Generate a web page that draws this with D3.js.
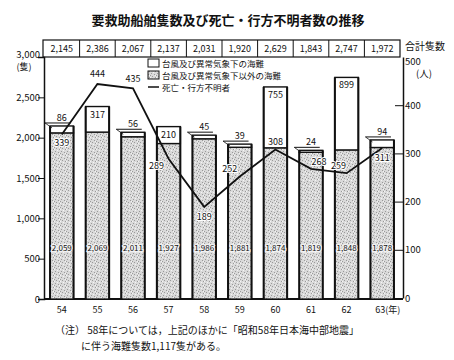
<!DOCTYPE html>
<html><head><meta charset="utf-8">
<script src="https://cdn.jsdelivr.net/npm/d3@7"></script>
<style>
body{margin:0;background:#fff;}
text{font-family:"Noto Sans CJK JP","DejaVu Sans",sans-serif;fill:#111;}
</style></head>
<body>
<svg id="c" width="454" height="360"></svg>
<script>
const years = ["54","55","56","57","58","59","60","61","62","63"];
const otherAccidents = [2059,2069,2011,1927,1986,1881,1874,1819,1848,1878];
const weatherAccidents = [86,317,56,210,45,39,755,24,899,94];
const totals = [2145,2386,2067,2137,2031,1920,2629,1843,2747,1972];
const deaths = [339,444,435,289,189,252,308,268,259,311];
const leftTicks = [0,500,1000,1500,2000,2500,3000];
const rightTicks = [0,100,200,300,400,500];

const svg = d3.select("#c");
const fmt = d3.format(",");

// pattern for stippled bars
const defs = svg.append("defs");
const pat = defs.append("pattern").attr("id","stip").attr("patternUnits","userSpaceOnUse")
  .attr("width",6).attr("height",6);
pat.append("rect").attr("width",6).attr("height",6).attr("fill","#d9d9d9");
[[1,1],[4,2],[2,4],[5,5],[0,3]].forEach(([a,b])=>pat.append("rect").attr("x",a).attr("y",b)
  .attr("width",1).attr("height",1).attr("fill","#9a9a9a"));
[[3,0],[0,5],[5,3]].forEach(([a,b])=>pat.append("rect").attr("x",a).attr("y",b)
  .attr("width",1).attr("height",1).attr("fill","#f4f4f4"));

const x = d3.scaleBand().domain(years).range([44,400]).paddingInner(0.34).paddingOuter(0.17);
const yL = d3.scaleLinear().domain([0,3000]).range([299,57]);
const yR = d3.scaleLinear().domain([0,500]).range([298,57]);

// title
svg.append("text").attr("x",228).attr("y",25).attr("text-anchor","middle")
  .attr("font-size",13).attr("font-weight","bold").text("要救助船舶隻数及び死亡・行方不明者数の推移");

// top table
const tb = svg.append("g");
tb.append("rect").attr("x",43).attr("y",40).attr("width",357).attr("height",17)
  .attr("fill","none").attr("stroke","#111").attr("stroke-width",1.2);
years.forEach((yr,i)=>{
  if(i>0){
    const sx = x(yr) - x.step()*x.paddingInner()/2;
    tb.append("line").attr("x1",sx).attr("x2",sx).attr("y1",40).attr("y2",57).attr("stroke","#111").attr("stroke-width",1);
  }
  tb.append("text").attr("x",x(yr)+x.bandwidth()/2).attr("y",52).attr("text-anchor","middle")
    .attr("font-size",9).text(fmt(totals[i]));
});
svg.append("text").attr("x",405).attr("y",50).attr("font-size",10).text("合計隻数");

// axes
const gL = svg.append("g").attr("transform","translate(44,0)")
  .call(d3.axisLeft(yL).tickValues(leftTicks).tickSize(6).tickFormat(d=>d===3000?"3,000":fmt(d)));
gL.select(".domain").attr("stroke","#111").attr("stroke-width",1.5);
gL.selectAll(".tick line").attr("stroke","#111");
gL.selectAll(".tick text").attr("font-size",9.5).attr("font-family","DejaVu Sans").attr("x",-4);
gL.selectAll(".tick").filter(d=>d===0).select("line").remove();
gL.selectAll(".tick").filter(d=>d===3000).select("line").remove();
gL.selectAll(".tick").filter(d=>d===3000).select("text").attr("dy","0em");
svg.append("text").attr("x",24).attr("y",70).attr("text-anchor","middle").attr("font-size",9).text("(隻)");

const gR = svg.append("g").attr("transform","translate(403,0)")
  .call(d3.axisRight(yR).tickValues(rightTicks).tickSize(0).tickFormat(d=>d));
gR.select(".domain").attr("stroke","#111").attr("stroke-width",1.5);
gR.selectAll(".tick text").attr("font-size",9.5).attr("font-family","DejaVu Sans").attr("x",2);
gR.selectAll(".tick").filter(d=>d>0&&d<500).append("line").attr("x1",-8).attr("x2",0).attr("stroke","#111");
gR.selectAll(".tick").filter(d=>d===500).select("text").attr("dy","0.75em");
svg.append("text").attr("x",424).attr("y",77).attr("text-anchor","middle").attr("font-size",9.5).text("(人)");

// baseline
svg.append("line").attr("x1",44).attr("x2",403).attr("y1",299).attr("y2",299).attr("stroke","#111").attr("stroke-width",1.8);

// x labels
years.forEach((yr,i)=>{
  const cx = x(yr)+x.bandwidth()/2;
  svg.append("text").attr("x", i===9? cx-7 : cx).attr("y",313)
    .attr("text-anchor", i===9? "start":"middle").attr("font-size",9)
    .text(i===9? yr+"(年)" : yr);
});

// bars
const bars = svg.append("g");
years.forEach((yr,i)=>{
  const bx = x(yr), bw = x.bandwidth();
  const yLow = yL(otherAccidents[i]), yTop = yL(totals[i]);
  bars.append("rect").attr("x",bx).attr("y",yLow).attr("width",bw).attr("height",yL(0)-yLow)
    .attr("fill","url(#stip)").attr("stroke","#111").attr("stroke-width",1.2);
  bars.append("rect").attr("x",bx).attr("y",yTop).attr("width",bw).attr("height",yLow-yTop)
    .attr("fill","#fff").attr("stroke","#111").attr("stroke-width",1.4);
  [bx, bx+bw].forEach(sx=>bars.append("line").attr("x1",sx).attr("x2",sx).attr("y1",yTop).attr("y2",yL(0))
    .attr("stroke","#111").attr("stroke-width",2));
  bars.append("text").attr("x",bx+bw/2).attr("y",yL(600)).attr("text-anchor","middle")
    .attr("font-size",8).attr("font-family","DejaVu Sans Condensed, DejaVu Sans")
    .attr("stroke","#f2f2f2").attr("stroke-width",2.5).attr("paint-order","stroke")
    .text(fmt(otherAccidents[i]));
  const w = weatherAccidents[i];
  if (w > 150){
    bars.append("text").attr("x",bx+bw/2).attr("y",yTop+11).attr("text-anchor","middle")
      .attr("font-size",9).attr("font-family","DejaVu Sans Condensed, DejaVu Sans").text(w);
  } else {
    const ly = yTop-3;
    bars.append("line").attr("x1",bx-5).attr("x2",bx+bw-3).attr("y1",ly).attr("y2",ly).attr("stroke","#111").attr("stroke-width",1);
    bars.append("line").attr("x1",bx-5).attr("x2",bx+2).attr("y1",ly).attr("y2",yTop+2).attr("stroke","#111").attr("stroke-width",0.8);
    bars.append("text").attr("x",bx+bw/2).attr("y",ly-2).attr("text-anchor","middle")
      .attr("font-size",9).attr("font-family","DejaVu Sans Condensed, DejaVu Sans").text(w);
  }
});

// deaths line
const cxs = years.map(yr=>x(yr)+x.bandwidth()/2);
const line = d3.line().x((d,i)=>cxs[i]).y(d=>yR(d));
svg.append("path").datum(deaths).attr("d",line).attr("fill","none").attr("stroke","#111").attr("stroke-width",1.8);
const off = [[0,8],[0,-7],[0,-6],[-12,7],[0,10],[-10,-5],[0,-5],[8,-4],[-8,-4],[0,10]];
deaths.forEach((d,i)=>{
  svg.append("text").attr("x",cxs[i]+off[i][0]).attr("y",yR(d)+off[i][1]+(off[i][1]>0?3:0))
    .attr("text-anchor","middle").attr("font-size",9)
    .attr("font-family","DejaVu Sans Condensed, DejaVu Sans")
    .attr("stroke","#fff").attr("stroke-width",2).attr("paint-order","stroke").text(d);
});

// legend
const lg = svg.append("g");
lg.append("rect").attr("x",148).attr("y",59).attr("width",11).attr("height",8).attr("fill","#fff").attr("stroke","#111");
lg.append("text").attr("x",162).attr("y",66.5).attr("font-size",8.5).text("台風及び異常気象下の海難");
lg.append("rect").attr("x",148).attr("y",71).attr("width",11).attr("height",8).attr("fill","url(#stip)").attr("stroke","#111");
lg.append("text").attr("x",162).attr("y",78.5).attr("font-size",8.5).text("台風及び異常気象下以外の海難");
lg.append("line").attr("x1",148).attr("x2",159).attr("y1",87).attr("y2",87).attr("stroke","#111").attr("stroke-width",1.5);
lg.append("text").attr("x",162).attr("y",90.5).attr("font-size",8.5).text("死亡・行方不明者");

// note
svg.append("text").attr("x",55).attr("y",334).attr("font-size",10).text("（注） 58年については，上記のほかに「昭和58年日本海中部地震」");
svg.append("text").attr("x",81).attr("y",350).attr("font-size",10).text("に伴う海難隻数1,117隻がある。");
</script>
</body></html>
